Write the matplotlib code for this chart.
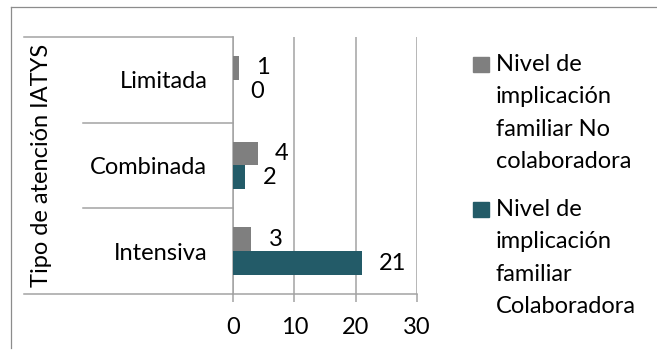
import matplotlib.pyplot as plt
from matplotlib.transforms import blended_transform_factory
import numpy as np

categories = ["Intensiva", "Combinada", "Limitada"]
no_colab = [3, 4, 1]
colab = [21, 2, 0]
series_names = ["Nivel de\nimplicación\nfamiliar No\ncolaboradora",
                "Nivel de\nimplicación\nfamiliar\nColaboradora"]
group_title = "Tipo de atención IATYS"
xticks = [0, 10, 20, 30]

GRAY = "#7f7f7f"
TEAL = "#235b68"
LINE = "#a3a3a3"
FONT = "Lato"
FS = 17

plt.rcParams['font.family'] = FONT

W, H = 657, 358
fig = plt.figure(figsize=(W / 100, H / 100), dpi=100)

# plot area in pixels: x 233..417, y 37..294
ax = fig.add_axes([233 / W, 1 - 294 / H, 184 / W, 257 / H])

y = np.arange(len(categories))
bh = 0.28
ax.barh(y + bh / 2, no_colab, height=bh, color=GRAY, zorder=3)
ax.barh(y - bh / 2, colab, height=bh, color=TEAL, zorder=3)

for yi, v in zip(y + bh / 2, no_colab):
    ax.annotate(str(v), (v, yi), xytext=(12.5, 0), textcoords="offset points",
                ha="left", va="center", fontsize=FS)
for yi, v in zip(y - bh / 2, colab):
    ax.annotate(str(v), (v, yi), xytext=(12.5, 0), textcoords="offset points",
                ha="left", va="center", fontsize=FS)

ax.set_xlim(0, 30)
ax.set_ylim(-0.5, len(categories) - 0.5)
ax.set_xticks(xticks)
ax.set_xticklabels([str(t) for t in xticks], fontsize=FS)
ax.set_yticks(y)
ax.set_yticklabels(categories, fontsize=FS)
ax.tick_params(axis="y", length=0, pad=18.5)
ax.tick_params(axis="x", length=5.8, width=1.1, color=LINE, pad=11)

ax.grid(axis="x", color=LINE, linewidth=1.1, zorder=0)
for side in ["top", "right"]:
    ax.spines[side].set_visible(False)
for side in ["left", "bottom"]:
    ax.spines[side].set_color(LINE)
    ax.spines[side].set_linewidth(1.1)

# category separators extending left into the label area
tr = blended_transform_factory(ax.transAxes, ax.transData)
x_outer = (24 - 233) / 184
x_inner = (83 - 233) / 184
for b in [-0.5, len(categories) - 0.5]:
    ax.plot([x_outer, 0], [b, b], color=LINE, lw=1.1, transform=tr, clip_on=False)
for b in np.arange(0.5, len(categories) - 0.5):
    ax.plot([x_inner, 0], [b, b], color=LINE, lw=1.1, transform=tr, clip_on=False)

ax.text((42 - 233) / 184, 0.5, group_title, transform=ax.transAxes,
        rotation=90, ha="center", va="center", fontsize=FS)

# legend drawn by hand: square + one text line per row
pitch = 32.3
for name, color, top in zip(series_names, [GRAY, TEAL], [57, 202]):
    fig.patches.append(plt.Rectangle((473 / W, 1 - (top + 15) / H), 16 / W, 15 / H,
                                     color=color, transform=fig.transFigure))
    for i, line in enumerate(name.split("\n")):
        base = top + 14 + i * pitch
        fig.text(496 / W, 1 - base / H, line, ha="left", va="baseline", fontsize=FS)

# outer frame: top and left edges only
fig.add_artist(plt.Line2D([11 / W, 1], [1 - 7 / H, 1 - 7 / H], color="#8c8c8c", lw=0.9))
fig.add_artist(plt.Line2D([11 / W, 11 / W], [1 - 7 / H, 1 - 348 / H], color="#8c8c8c", lw=0.9))

fig.savefig("out.png", dpi=100)
